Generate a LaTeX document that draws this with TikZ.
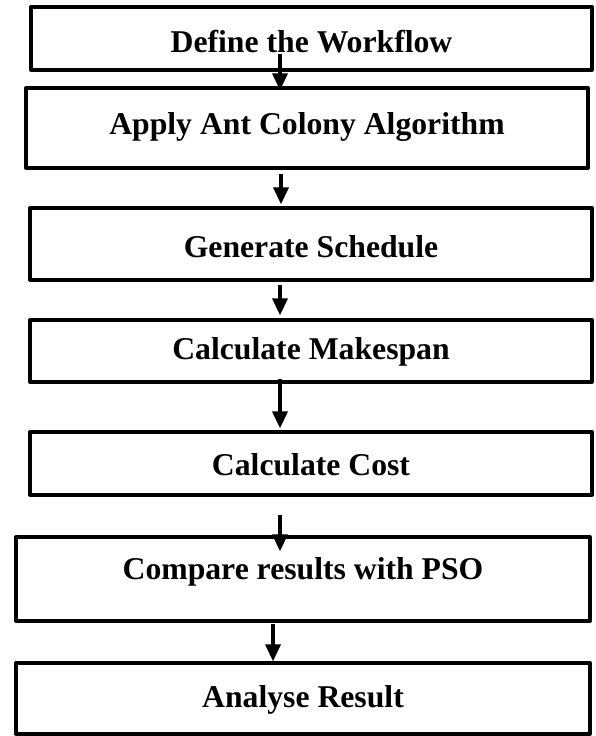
\documentclass[tikz,border=0pt]{standalone}
\usepackage{fontspec}
\setmainfont{Liberation Serif}
\usetikzlibrary{arrows.meta,calc}

\tikzset{
  stage/.style={draw, line width=3.3pt, line join=round, inner sep=0pt,
    fill=white, font=\bfseries\fontsize{31.7}{36}\selectfont},
  % text sitting below (tdown) or above (tup) the box centre
  tdown/.style={text height={21pt+2*#1}, text depth=0pt},
  tup/.style={text height=21pt, text depth={2*#1}},
  flow/.style={line width=3.6pt,
    -{Triangle[width=15pt,length=17pt]}}
}

\begin{document}
\begin{tikzpicture}[x=1pt,y=-1pt]
\useasboundingbox[fill=white] (0,0) rectangle (595,736);

\node[stage, tdown=3.5pt, minimum width=561pt, minimum height=63pt]  (b1) at (311.5,38.5) {Define the Workflow};
\node[stage, tup=4pt,     minimum width=562pt, minimum height=80pt]  (b2) at (307,128)   {Apply Ant Colony Algorithm};
\node[stage, tdown=3pt,   minimum width=562pt, minimum height=72pt]  (b3) at (311,244)   {Generate Schedule};
\node[stage, tup=2pt,     minimum width=562pt, minimum height=62pt]  (b4) at (311,351)   {Calculate Makespan};
\node[stage, tdown=1.5pt, minimum width=562pt, minimum height=63pt]  (b5) at (311,463.5) {Calculate Cost};
\node[stage, tup=10pt,    minimum width=574pt, minimum height=84pt]  (b6) at (303,579)   {Compare results with PSO};
\node[stage, tup=1.5pt,   minimum width=574pt, minimum height=71pt]  (b7) at (303,698.5) {Analyse Result};

\coordinate (ax) at (280,0);
\coordinate (ax6) at (273,0);

\draw[flow] ($(ax |- b1.south)+(0,-18)$) -- ($(ax |- b2.north)+(0,4)$);
\draw[flow] ($(ax |- b2.south)+(1,4)$)   -- ($(ax |- b3.north)+(1,-2)$);
\draw[flow] ($(ax |- b3.south)+(0,3)$)   -- ($(ax |- b4.north)+(0,-3)$);
\draw[flow] ($(ax |- b4.south)+(0,-5)$)  -- ($(ax |- b5.north)+(0,-2)$);
\draw[flow] ($(ax |- b5.south)+(0,18)$)  -- ($(ax |- b6.north)+(0,16)$);
\draw[flow] ($(ax6 |- b6.south)+(0,1)$)  -- (ax6 |- b7.north);
\end{tikzpicture}
\end{document}
